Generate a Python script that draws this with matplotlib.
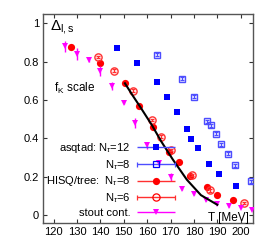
import matplotlib
matplotlib.use("Agg")
import matplotlib.pyplot as plt
import numpy as np
from matplotlib.container import ErrorbarContainer
from matplotlib.legend_handler import HandlerErrorbar

plt.rcParams['font.family'] = ['Liberation Sans', 'DejaVu Sans']
plt.rcParams['mathtext.fontset'] = 'custom'
plt.rcParams['mathtext.rm'] = 'Liberation Sans'
plt.rcParams['mathtext.it'] = 'Liberation Sans:italic'

# asqtad Nt=12 (filled blue squares)
asq12_T = [147.2, 155.5, 164.0, 168.3, 172.8, 177.1, 178.8, 181.7, 186.4, 190.6, 197.8]
asq12_D = [0.871, 0.790, 0.694, 0.618, 0.540, 0.450, 0.398, 0.352, 0.265, 0.213, 0.151]
# asqtad Nt=8 (open blue squares)
asq8_T = [164.0, 174.7, 180.0, 185.7, 187.5, 189.5, 191.4, 194.5, 197.5, 204.6]
asq8_D = [0.836, 0.710, 0.617, 0.490, 0.468, 0.424, 0.369, 0.320, 0.260, 0.177]
asq8_E = [0.008, 0.008, 0.008, 0.008, 0.008, 0.008, 0.008, 0.008, 0.008, 0.008]
# HISQ/tree Nt=8 (filled red circles)
hisq8_T = [127.5, 140.0, 150.5, 156.5, 162.5, 169.5, 173.5, 178.5, 185.5, 190.0, 196.5]
hisq8_D = [0.874, 0.793, 0.690, 0.571, 0.459, 0.330, 0.277, 0.203, 0.147, 0.104, 0.078]
# HISQ/tree Nt=6 (open red circles)
hisq6_T = [139.0, 146.0, 154.0, 162.0, 166.0, 170.0, 179.0, 187.0, 201.5]
hisq6_D = [0.824, 0.753, 0.649, 0.497, 0.410, 0.340, 0.210, 0.130, 0.064]
hisq6_E = [0.006, 0.006, 0.006, 0.006, 0.006, 0.006, 0.006, 0.006, 0.006]
# stout continuum (magenta down triangles)
stout_T = [125, 130, 135, 140, 145, 150, 155, 160, 165, 170, 175, 180, 185, 190, 195, 200, 205]
stout_D = [0.879, 0.840, 0.807, 0.753, 0.672, 0.587, 0.480, 0.365, 0.274, 0.200,
           0.139, 0.109, 0.081, 0.061, 0.047, 0.040, 0.030]
stout_E = [0.028, 0.030, 0.008, 0.026, 0.020, 0.008, 0.027, 0.018, 0.015, 0.020,
           0.005, 0.005, 0.005, 0.004, 0.004, 0.004, 0.004]
# black curve
curve_T = [150.5, 154.0, 157.0, 162.0, 166.0, 171.0, 177.0, 183.0, 190.0]
curve_D = [0.687, 0.620, 0.565, 0.470, 0.385, 0.290, 0.185, 0.105, 0.055]

xticks = [120, 130, 140, 150, 160, 170, 180, 190, 200]
yticks = [0, 0.2, 0.4, 0.6, 0.8, 1.0]
ytick_labels = ['0', '0.2', '0.4', '0.6', '0.8', '1']

labels = ['asqtad: N$_\\tau$=12', 'N$_\\tau$=8', 'HISQ/tree:  N$_\\tau$=8', 'N$_\\tau$=6', 'stout cont.']

blue = '#0000ff'
lblue = '#4d4dff'
red = '#ff0000'
lred = '#ff3030'
mag = '#ff00ff'

fig = plt.figure(figsize=(2.74, 2.47), dpi=100)
ax = fig.add_axes([0.157, 0.097, 0.766, 0.846])

ax.plot(asq12_T, asq12_D, 's', color=blue, ms=5, mew=0, zorder=3)
ax.errorbar(asq8_T, asq8_D, yerr=asq8_E, fmt='s', ms=5, mfc='none', mec=lblue, mew=1.0,
            ecolor=lblue, elinewidth=0.8, capsize=1.2, zorder=3)
ax.plot(hisq8_T, hisq8_D, 'o', color=red, ms=5.2, mew=0, zorder=3)
ax.errorbar(hisq6_T, hisq6_D, yerr=hisq6_E, fmt='o', ms=5.2, mfc='none', mec=lred, mew=1.0,
            ecolor=lred, elinewidth=0.8, capsize=1.2, zorder=3)
ax.errorbar(stout_T, stout_D, yerr=stout_E, fmt='v', ms=4.5, color=mag, mew=0,
            ecolor=mag, elinewidth=1.0, capsize=1.8, zorder=3)
ax.plot(curve_T, curve_D, '-', color='black', lw=1.5, zorder=4)

# legend proxies
h1 = ax.errorbar([np.nan], [np.nan], xerr=[1], fmt='s', ms=5, color=blue, mew=0,
                 ecolor=lblue, elinewidth=1.0, capsize=1.8)
h2 = ax.errorbar([np.nan], [np.nan], xerr=[1], fmt='s', ms=5, mfc='none', mec=blue, mew=0.9,
                 ecolor=lblue, elinewidth=1.0, capsize=1.8)
h3 = ax.errorbar([np.nan], [np.nan], xerr=[1], fmt='o', ms=5.2, color=red, mew=0,
                 ecolor=lred, elinewidth=1.0, capsize=1.8)
h4 = ax.errorbar([np.nan], [np.nan], xerr=[1], fmt='o', ms=5.2, mfc='none', mec=red, mew=0.9,
                 ecolor=lred, elinewidth=1.0, capsize=1.8)
h5 = ax.errorbar([np.nan], [np.nan], xerr=[1], fmt='v', ms=4.5, color=mag, mew=0,
                 ecolor=mag, elinewidth=1.0, capsize=1.8)
leg = ax.legend([h1, h2, h3, h4, h5], labels, loc='lower right',
                bbox_to_anchor=(0.635, 0.02), frameon=False, markerfirst=False,
                fontsize=8, handlelength=3.4, handletextpad=0.6, labelspacing=0.25,
                borderpad=0.1, borderaxespad=0.0,
                handler_map={ErrorbarContainer: HandlerErrorbar(xerr_size=1.7)})

ax.text(118.3, 0.965, r'$\Delta_{\mathrm{l,s}}$', fontsize=11, ha='left', va='baseline')
ax.text(120.0, 0.64, r'f$_\mathrm{K}$ scale', fontsize=8.5, ha='left', va='baseline')
ax.text(203.5, -0.028, 'T [MeV]', fontsize=8.5, ha='right', va='baseline')

ax.set_xlim(115.5, 205.2)
ax.set_ylim(-0.04, 1.047)
ax.set_xticks(xticks)
ax.set_yticks(yticks)
ax.set_yticklabels(ytick_labels)
ax.tick_params(direction='in', top=True, right=True, length=3, width=0.8,
               labelsize=8, colors='#333333', labelcolor='black', pad=3)
for s in ax.spines.values():
    s.set_color('#555555')
    s.set_linewidth(1.0)

fig.savefig('out.png', dpi=100)
